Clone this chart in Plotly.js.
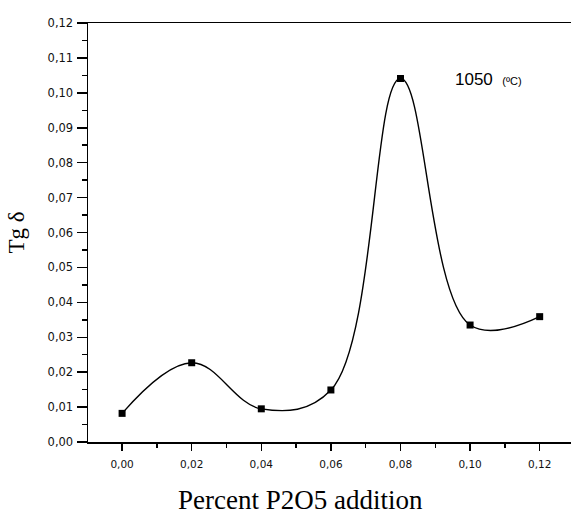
<!DOCTYPE html>
<html>
<head>
<meta charset="utf-8">
<script src="https://cdn.plot.ly/plotly-3.0.1.min.js"></script>
<style>html,body{margin:0;padding:0;background:#fff}#chart{width:571px;height:518px}</style>
</head>
<body>
<div id="chart"></div>
<script>
const percentP2O5 = [0.00, 0.02, 0.04, 0.06, 0.08, 0.10, 0.12];
const tgDelta = [0.0082, 0.0227, 0.0095, 0.0149, 0.1041, 0.0335, 0.0359];
const xTicks = [0.00, 0.02, 0.04, 0.06, 0.08, 0.10, 0.12];
const yTicks = [0.00, 0.01, 0.02, 0.03, 0.04, 0.05, 0.06, 0.07, 0.08, 0.09, 0.10, 0.11, 0.12];

const trace = {
  x: percentP2O5, y: tgDelta, type: 'scatter', mode: 'lines+markers',
  line: {shape: 'spline', smoothing: 1.1, color: '#000', width: 1.4},
  marker: {symbol: 'square', size: 7, color: '#000'},
  cliponaxis: false, hoverinfo: 'none'
};

const layout = {
  width: 571, height: 518,
  margin: {l: 88, r: 0, t: 23, b: 76},
  paper_bgcolor: '#fff', plot_bgcolor: '#fff',
  separators: ',.',
  showlegend: false,
  font: {family: 'DejaVu Sans, sans-serif', color: '#000'},
  xaxis: {
    range: [-0.0098, 0.129], tickvals: xTicks, tickformat: '.2f',
    showgrid: false, zeroline: false,
    showline: true, linecolor: '#000', linewidth: 1.5, mirror: true,
    ticks: 'outside', ticklen: 7, tickwidth: 1.5, tickcolor: '#000',
    minor: {dtick: 0.01, ticks: 'outside', ticklen: 4, tickwidth: 1.5, tickcolor: '#000'},
    tickfont: {size: 10.5, family: 'DejaVu Sans, sans-serif', color: '#111'},
    ticklabelstandoff: 5
  },
  yaxis: {
    range: [0, 0.12], tickvals: yTicks, tickformat: '.2f',
    showgrid: false, zeroline: false,
    showline: true, linecolor: '#000', linewidth: 1.5,
    ticks: 'outside', ticklen: 10, tickwidth: 1.5, tickcolor: '#000',
    minor: {dtick: 0.005, ticks: 'outside', ticklen: 5, tickwidth: 1.5, tickcolor: '#000'},
    tickfont: {size: 11.5, family: 'DejaVu Sans, sans-serif', color: '#111'},
    ticklabelstandoff: 1,
    title: {text: 'Tg δ', font: {family: 'Liberation Serif, serif', size: 23}, standoff: 16}
  },
  annotations: [
    {xref: 'paper', yref: 'paper', x: 0.44, y: -0.138, xanchor: 'center', yanchor: 'middle',
     text: 'Percent P2O5 addition', showarrow: false,
     font: {family: 'Liberation Serif, serif', size: 27, color: '#000'}},
    {xref: 'paper', yref: 'paper', x: 0.755, y: 0.865, xanchor: 'left', yanchor: 'middle',
     text: '1050  <span style="font-size:11px">(ºC)</span>', showarrow: false,
     font: {family: 'Liberation Sans, sans-serif', size: 17, color: '#000'}}
  ]
};

Plotly.newPlot('chart', [trace], layout, {staticPlot: true, displayModeBar: false});
</script>
</body>
</html>
